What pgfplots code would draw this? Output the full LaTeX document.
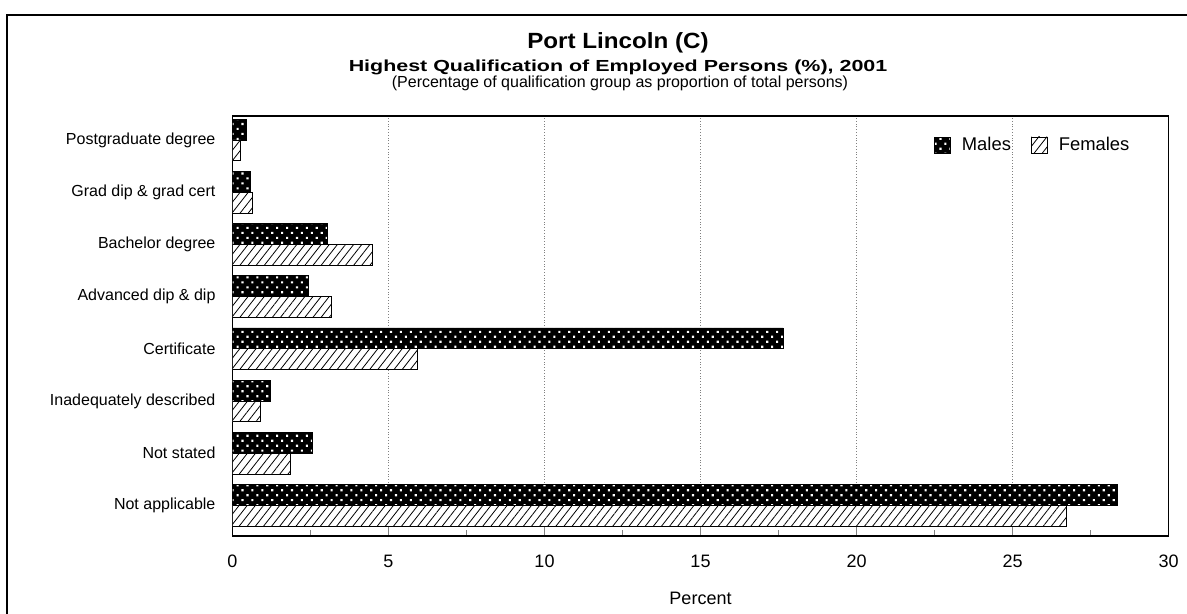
\documentclass[border=0pt]{standalone}
\usepackage{pgfplots}
\pgfplotsset{compat=1.18}
\usepackage{fontspec}
\setmainfont{Liberation Sans}
\newfontfamily\titleA[FakeStretch=1.1]{Liberation Sans}
\newfontfamily\titleB[FakeStretch=1.34]{Liberation Sans}
\usetikzlibrary{patterns,patterns.meta}

\pgfplotstableread{
y  males  females
7  0.45   0.26
6  0.56   0.65
5  3.04   4.48
4  2.42   3.18
3  17.65  5.94
2  1.22   0.91
1  2.56   1.84
0  28.37  26.74
}\quals

\begin{document}
\begin{tikzpicture}
\begin{axis}[
  at={(116.25pt,39pt)}, anchor=south west,
  scale only axis, width=468pt, height=210pt,
  xbar, bar width=0.4,
  xmin=0, xmax=30,
  ymin=-0.586, ymax=7.46,
  xtick={0,5,...,30},
  minor xtick={2.5,7.5,...,27.5},
  tick align=inside,
  xtick pos=bottom,
  major tick length=5pt, minor tick length=3pt,
  ytick={0,...,7},
  yticklabels={Not applicable,Not stated,Inadequately described,Certificate,Advanced dip \& dip,Bachelor degree,Grad dip \& grad cert,Postgraduate degree},
  ytick style={draw=none},
  yticklabel style={font=\fontsize{8}{9}\selectfont, xshift=-5pt},
  xticklabel style={font=\fontsize{9}{10}\selectfont, yshift=-6pt},
  /pgf/number format/assume math mode=true,
  xmajorgrids,
  major grid style={densely dotted, gray, line width=0.5pt},
  axis line style={line width=0.7pt},
  xlabel={Percent},
  xlabel style={font=\fontsize{9}{10}\selectfont, yshift=-5.5pt},
  legend style={at={(rel axis cs:0.856,0.931)}, anchor=center, draw=none, fill=none,
    font=\fontsize{9.2}{10}\selectfont, legend columns=2,
    /tikz/every odd column/.append style={column sep=3.5pt},
    /tikz/every even column/.append style={column sep=8pt}},
  sq/.style={legend image code/.code={\draw[##1] (0pt,-4pt) rectangle (8pt,4pt);}},
]
\addplot[bar shift=0.2, draw=black, fill=black,
  postaction={pattern={Dots[angle=45, distance=3.5pt, radius=0.75pt]}, pattern color=white}, sq]
  table[x=males, y=y] {\quals};
\addlegendentry{Males}
\addplot[bar shift=-0.2, draw=black, fill=white,
  postaction={pattern={Lines[angle=52, distance=3.2pt, line width=0.4pt]}, pattern color=black}, sq]
  table[x=females, y=y] {\quals};
\addlegendentry{Females}
\end{axis}
\node[anchor=base, font=\titleA\fontsize{11}{12}\selectfont\bfseries] at (309pt,282.85pt) {Port Lincoln (C)};
\node[anchor=base, font=\titleB\fontsize{8}{9}\selectfont\bfseries] at (309pt,271pt) {Highest Qualification of Employed Persons (\%), 2001};
\node[anchor=base, font=\fontsize{8}{9}\selectfont] at (310pt,263.3pt) {(Percentage of qualification group as proportion of total persons)};
\draw[line width=0.7pt] (3.5pt,-10pt) -- (3.5pt,299.5pt) -- (610pt,299.5pt);
\pgfresetboundingbox
\useasboundingbox (0,0) rectangle (593.5pt,307pt);
\end{tikzpicture}
\end{document}
